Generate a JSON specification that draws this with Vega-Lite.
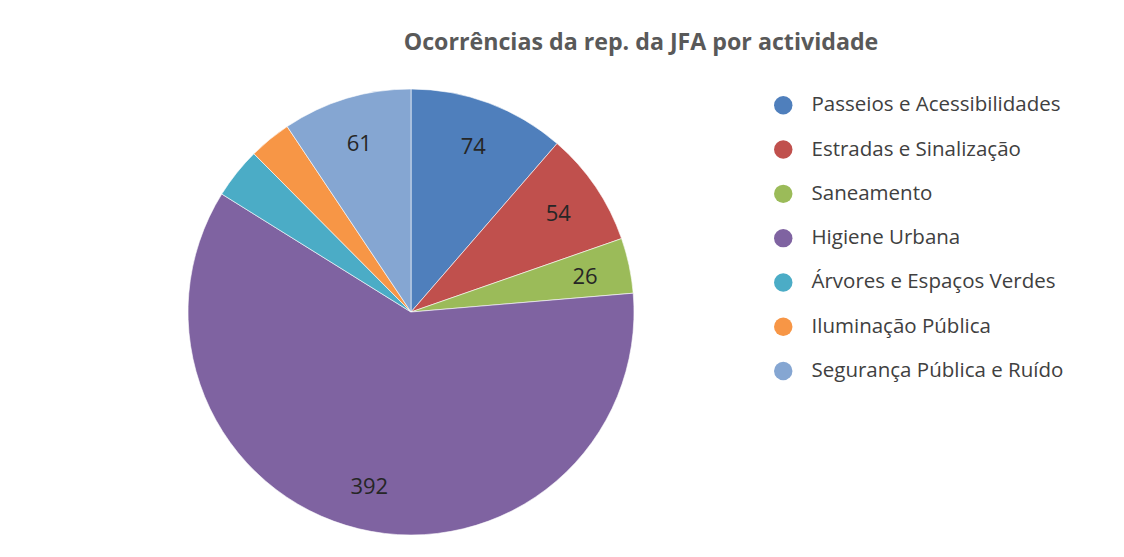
{
  "$schema": "https://vega.github.io/schema/vega-lite/v6.json",
  "width": 804,
  "height": 490,
  "autosize": {"type": "none"},
  "padding": {"left": 9, "top": 67, "right": 311, "bottom": 0},
  "background": "white",
  "config": {"view": {"stroke": null}},
  "title": {
    "text": "Ocorrências da rep. da JFA por actividade",
    "anchor": "middle",
    "dx": 230,
    "offset": 12,
    "font": "Open Sans",
    "fontSize": 23.2,
    "fontWeight": "bold",
    "color": "#595959"
  },
  "data": {
    "values": [
      {"cat": "Passeios e Acessibilidades", "value": 74},
      {"cat": "Estradas e Sinalização", "value": 54},
      {"cat": "Saneamento", "value": 26},
      {"cat": "Higiene Urbana", "value": 392},
      {"cat": "Árvores e Espaços Verdes", "value": 24},
      {"cat": "Iluminação Pública", "value": 20},
      {"cat": "Segurança Pública e Ruído", "value": 61}
    ]
  },
  "transform": [
    {"window": [{"op": "row_number", "as": "ord"}]}
  ],
  "encoding": {
    "theta": {"field": "value", "type": "quantitative", "stack": true},
    "order": {"field": "ord", "type": "quantitative", "sort": "ascending"}
  },
  "layer": [
    {
      "mark": {"type": "arc", "outerRadius": 223, "stroke": "#ffffff", "strokeWidth": 0.6},
      "encoding": {
        "color": {
          "field": "cat",
          "type": "nominal",
          "scale": {
            "domain": ["Passeios e Acessibilidades", "Estradas e Sinalização", "Saneamento", "Higiene Urbana", "Árvores e Espaços Verdes", "Iluminação Pública", "Segurança Pública e Ruído"],
            "range": ["#4F7FBC", "#C0504D", "#9BBB59", "#7F63A1", "#4BACC6", "#F79646", "#85A6D2"]
          },
          "legend": {
            "title": null,
            "orient": "none",
            "legendX": 764,
            "legendY": 28,
            "symbolType": "circle",
            "symbolSize": 340,
            "symbolStrokeWidth": 0,
            "labelFont": "Open Sans",
            "labelFontSize": 20.5,
            "labelColor": "#404040",
            "labelOffset": 18,
            "labelLimit": 400,
            "rowPadding": 23.3
          }
        }
      }
    },
    {
      "mark": {"type": "text", "radius": 178, "font": "Open Sans", "fontSize": 22, "fill": "#262626", "dy": 2},
      "encoding": {
        "detail": {"field": "cat", "type": "nominal"},
        "text": {
          "condition": {"test": "datum.cat === 'Árvores e Espaços Verdes' || datum.cat === 'Iluminação Pública'", "value": ""},
          "field": "value",
          "type": "quantitative"
        }
      }
    }
  ]
}
